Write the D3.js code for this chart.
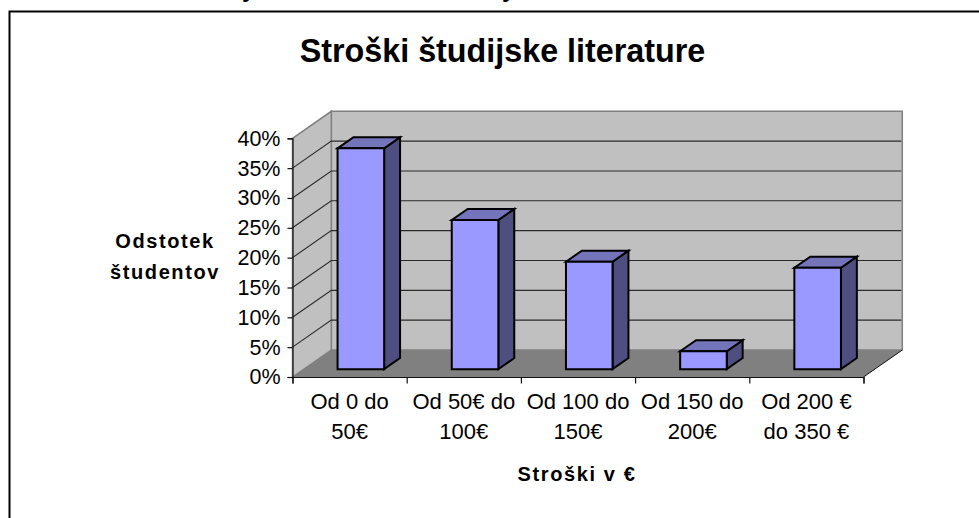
<!DOCTYPE html>
<html>
<head>
<meta charset="utf-8">
<script src="https://cdn.jsdelivr.net/npm/d3@7"></script>
<style>
  html, body { margin: 0; padding: 0; background: #fff; }
  svg { display: block; font-family: "Liberation Sans", Arial, sans-serif; }
</style>
</head>
<body>
<script>
// data
const categories = [["Od 0 do", "50€"], ["Od 50€ do", "100€"], ["Od 100 do", "150€"], ["Od 150 do", "200€"], ["Od 200 €", "do 350 €"]];
const values = [37, 25, 18, 3, 17];
const yTicks = [0, 5, 10, 15, 20, 25, 30, 35, 40];
const title = "Stroški študijske literature";
const yTitle = ["Odstotek", "študentov"];
const xTitle = "Stroški v €";

// metrics
const width = 979, height = 518;
const plotLeft = 292.5, plotRight = 863.5, plotBottom = 377, plotTop = 138.3;
const depthX = 38.8, depthY = -27;
const barFront = 0.29, barBack = 0.7;

// colours
const wallFill = "#c0c0c0", floorFill = "#808080", edge = "#808080", grid = "#2a2a2a";
const barFill = "#9999ff", barTop = "#7474bb", barSide = "#4e4e80";

// elements
const svg = d3.select("body").append("svg")
    .attr("width", width)
    .attr("height", height);

// axis scale
const xScale = d3.scaleBand()
    .domain(d3.range(categories.length))
    .range([plotLeft, plotRight])
    .paddingInner(0.592)
    .paddingOuter(0.296);
const xEdge = d3.scaleLinear().domain([0, categories.length]).range([plotLeft, plotRight]);
const yScale = d3.scaleLinear().domain([0, 40]).range([plotBottom, plotTop]);

// project a point of the plot back by a fraction of the depth
const pt = (x, y, f) => [x + f * depthX, y + f * depthY];
const line = d3.line();

// outer frame, open on the right and at the bottom
svg.append("path")
    .attr("d", line([[9.5, height], [9.5, 11.5], [width, 11.5]]))
    .attr("fill", "none")
    .attr("stroke", "#000")
    .attr("stroke-width", 2);

// cut off text above the frame
svg.selectAll("text.cut")
    .data([242, 502])
    .join("text")
    .attr("class", "cut")
    .attr("x", d => d)
    .attr("y", -3)
    .attr("font-size", 24)
    .attr("font-weight", "bold")
    .text("y");

// walls and floor
const polygon = (points, fill, stroke) => svg.append("path")
    .attr("d", line(points) + "Z")
    .attr("fill", fill)
    .attr("stroke", stroke)
    .attr("stroke-width", 1.5)
    .attr("stroke-linejoin", "miter");
polygon([pt(plotLeft, plotTop, 1), pt(plotRight, plotTop, 1), pt(plotRight, plotBottom, 1), pt(plotLeft, plotBottom, 1)], wallFill, edge);
polygon([pt(plotLeft, plotTop, 0), pt(plotLeft, plotTop, 1), pt(plotLeft, plotBottom, 1), pt(plotLeft, plotBottom, 0)], wallFill, edge);
polygon([pt(plotLeft, plotBottom, 0), pt(plotLeft, plotBottom, 1), pt(plotRight, plotBottom, 1), pt(plotRight, plotBottom, 0)], floorFill, "none");

// gridlines
yTicks.filter(d => d > 0 && d < 40).forEach(d => {
    svg.append("path")
        .attr("d", line([pt(plotLeft, yScale(d), 0), pt(plotLeft, yScale(d), 1), pt(plotRight - 1, yScale(d), 1)]))
        .attr("fill", "none")
        .attr("stroke", grid)
        .attr("stroke-width", 1.1);
});
svg.append("path")
    .attr("d", line([pt(plotRight, plotBottom, 0), pt(plotRight, plotBottom, 1)]))
    .attr("stroke", "#111")
    .attr("stroke-width", 1);

// bars
const bars = svg.selectAll("g.bar")
    .data(values)
    .join("g")
    .attr("class", "bar");
const barPath = (points) => line(points) + "Z";
bars.append("path")
    .attr("d", (d, i) => {
        const x0 = xScale(i) + xScale.bandwidth(), y0 = yScale(d), y1 = yScale(0);
        return barPath([pt(x0, y0, barFront), pt(x0, y0, barBack), pt(x0, y1, barBack), pt(x0, y1, barFront)]);
    })
    .attr("fill", barSide);
bars.append("path")
    .attr("d", (d, i) => {
        const x0 = xScale(i), x1 = x0 + xScale.bandwidth(), y0 = yScale(d);
        return barPath([pt(x0, y0, barFront), pt(x0, y0, barBack), pt(x1, y0, barBack), pt(x1, y0, barFront)]);
    })
    .attr("fill", barTop);
bars.append("path")
    .attr("d", (d, i) => {
        const x0 = xScale(i), x1 = x0 + xScale.bandwidth(), y0 = yScale(d), y1 = yScale(0);
        return barPath([pt(x0, y0, barFront), pt(x1, y0, barFront), pt(x1, y1, barFront), pt(x0, y1, barFront)]);
    })
    .attr("fill", barFill);
bars.selectAll("path")
    .attr("stroke", "#000")
    .attr("stroke-width", 2)
    .attr("stroke-linejoin", "miter");

// axes
const yAxis = svg.append("g")
    .attr("transform", `translate(${plotLeft}, 0)`)
    .call(d3.axisLeft(yScale).tickValues(yTicks).tickFormat(d => d + "%").tickSize(5).tickPadding(7));
const xAxis = svg.append("g")
    .attr("transform", `translate(0, ${plotBottom})`)
    .call(d3.axisBottom(xEdge).ticks(categories.length).tickFormat("").tickSize(6.5));
[yAxis, xAxis].forEach(a => {
    a.selectAll("path, line").attr("stroke", "#111").attr("stroke-width", 1.2);
    a.selectAll("text").attr("font-size", 21.5).attr("fill", "#000").attr("font-family", "Liberation Sans");
});

// category labels
const labelX = d3.scaleBand().domain(d3.range(categories.length)).range([plotLeft, plotRight]);
svg.selectAll("g.cat")
    .data(categories)
    .join("g")
    .attr("class", "cat")
    .selectAll("text")
    .data((d, i) => d.map((t, j) => ({ t, j, i })))
    .join("text")
    .attr("x", d => labelX(d.i) + labelX.bandwidth() / 2)
    .attr("y", d => 409 + d.j * 30)
    .attr("text-anchor", "middle")
    .attr("font-size", 22)
    .text(d => d.t);

// titles
svg.append("text")
    .attr("x", 502.5)
    .attr("y", 61.5)
    .attr("text-anchor", "middle")
    .attr("font-size", 32.3)
    .attr("font-weight", "bold")
    .text(title);
svg.selectAll("text.ytitle")
    .data(yTitle)
    .join("text")
    .attr("class", "ytitle")
    .attr("x", 165)
    .attr("y", (d, i) => 248 + i * 31)
    .attr("text-anchor", "middle")
    .attr("font-size", 20)
    .attr("font-weight", "bold")
    .attr("letter-spacing", 1.6)
    .text(d => d);
svg.append("text")
    .attr("x", 577)
    .attr("y", 480.5)
    .attr("text-anchor", "middle")
    .attr("font-size", 20)
    .attr("font-weight", "bold")
    .attr("letter-spacing", 1.6)
    .text(xTitle);
</script>
</body>
</html>
